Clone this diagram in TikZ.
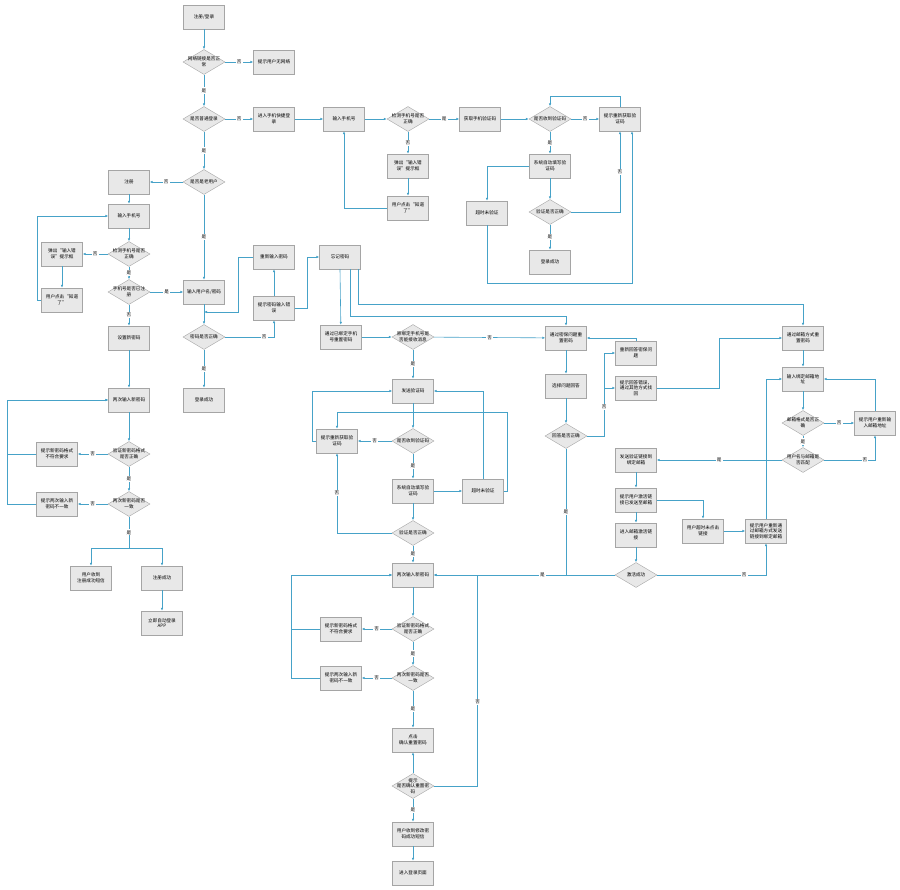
\documentclass[tikz,border=0pt]{standalone}
\usepackage{fontspec}
\newfontfamily\cjk{Noto Sans CJK SC}
\usetikzlibrary{arrows.meta, shapes.geometric}
\definecolor{flowline}{RGB}{70,162,200}
\definecolor{boxfill}{RGB}{232,232,232}
\definecolor{boxline}{RGB}{165,165,165}

\begin{document}
\begin{tikzpicture}[x=1pt, y=-1pt, every node/.style={font={\cjk\fontsize{4.6}{5.6}\selectfont}},
    >={Latex[length=3pt,width=2.6pt]},
    box/.style={draw=boxline, fill=boxfill, minimum width=41pt, minimum height=24pt, text width=38pt, align=center, inner sep=1pt},
    dia/.style={diamond, draw=boxline, fill=boxfill, minimum width=42pt, minimum height=25pt, inner sep=0pt,
        label={[font={\cjk\fontsize{4.6}{5.6}\selectfont}, align=center, text width=40pt]center:#1}},
    flow/.style={->, draw=flowline, line width=0.6pt},
    flowjoin/.style={draw=flowline, line width=0.6pt},
    lab/.style={fill=white, inner sep=1pt}]
    \useasboundingbox (0,0) rectangle (900,890);
    % login / register column
    \node[box] (start) at (204,17) {注册/登录};
    \node[dia={网络链接是否正\\常}] (net) at (204,62) {};
    \node[box] (nonet) at (274,62) {提示用户无网络};
    \node[dia={是否普通登录}] (normal) at (204,119) {};
    \node[box] (quick) at (274,119) {进入手机快捷登\\录};
    \node[dia={是否是老用户}] (old) at (204,182) {};
    \node[box] (reg) at (129,182) {注册};
    \node[box] (rphone) at (129,216) {输入手机号};
    \node[dia={检测手机号是否\\正确}] (rcheck) at (129,254) {};
    \node[box] (rerr) at (62,254) {弹出“输入错\\误”提示框};
    \node[box] (rok) at (62,300) {用户点击“知道\\了”};
    \node[dia={手机号是否已注\\册}] (rreg) at (129,292) {};
    \node[box] (login) at (204,292) {输入用户名/密码};
    \node[box] (setpw) at (129,338) {设置新密码};
    \node[box] (rtwice) at (129,400) {两次输入新密码};
    \node[dia={验证新密码格式\\是否正确}] (rfmt) at (129,454) {};
    \node[box] (rfmterr) at (57,454) {提示新密码格式\\不符合要求};
    \node[dia={两次新密码是否\\一致}] (rsame) at (129,504) {};
    \node[box] (rsameerr) at (57,504) {提示两次输入新\\密码不一致};
    \coordinate (rsplit) at (129,548);
    \node[box] (rsms) at (91,578) {用户收到\\注册成功短信};
    \node[box] (rdone) at (162,578) {注册成功};
    \node[box] (rauto) at (162,623) {立即自动登录\\APP};
    \node[dia={密码是否正确}] (pwok) at (204,337) {};
    \coordinate (lbelow) at (204,312);
    \node[box] (lsucc) at (204,400) {登录成功};
    \node[box] (retry) at (274,257) {重新输入密码};
    \node[box] (pwerr) at (274,308) {提示密码输入错\\误};
    \node[box] (forget) at (340,257) {忘记密码};
    % quick login row
    \node[box] (qphone) at (344,119) {输入手机号};
    \node[dia={检测手机号是否\\正确}] (qcheck) at (408,119) {};
    \node[box] (qerr) at (408,166) {弹出“输入错\\误”提示框};
    \node[box] (qok) at (408,208) {用户点击“知道\\了”};
    \node[box] (qcode) at (480,119) {获取手机验证码};
    \node[dia={是否收到验证码}] (qrecv) at (550,119) {};
    \node[box] (qagain) at (620,119) {提示重新获取验\\证码};
    \node[box] (qfill) at (550,166) {系统自动填写验\\证码};
    \node[box] (qtime) at (487,213) {超时未验证};
    \node[dia={验证是否正确}] (qver) at (550,212) {};
    \node[box] (qsucc) at (550,262) {登录成功};
    % reset by phone
    \node[box] (mreset) at (341,337) {通过已绑定手机\\号重置密码};
    \node[dia={原绑定手机号是\\否能接收消息}] (mrecvq) at (413,337) {};
    \node[box] (msend) at (413,391) {发送验证码};
    \node[box] (magain) at (337,441) {提示重新获取验\\证码};
    \node[dia={是否收到验证码}] (mrecv) at (413,441) {};
    \node[box] (mfill) at (413,491) {系统自动填写验\\证码};
    \node[box] (mtime) at (483,491) {超时未验证};
    \coordinate (mloop) at (507,412);
    \node[dia={验证是否正确}] (mver) at (413,533) {};
    \node[box] (mtwice) at (413,575) {两次输入新密码};
    \node[dia={验证新密码格式\\是否正确}] (mfmt) at (413,629) {};
    \node[box] (mfmterr) at (341,629) {提示新密码格式\\不符合要求};
    \node[dia={两次新密码是否\\一致}] (msame) at (413,678) {};
    \node[box] (msameerr) at (341,678) {提示两次输入新\\密码不一致};
    \node[box] (mclick) at (413,740) {点击\\确认重置密码};
    \node[dia={提示\\是否确认重置密\\码}] (mconf) at (413,786) {};
    \node[box] (msms) at (413,834) {用户收到修改密\\码成功短信};
    \node[box] (mlogin) at (413,873) {进入登录页面};
    % reset by security question
    \node[box] (sreset) at (566,338) {通过密保问题重\\置密码};
    \node[box] (sans) at (566,386) {选择问题回答};
    \node[dia={回答是否正确}] (sok) at (566,436) {};
    \coordinate (sjoin) at (566,575);
    \node[box] (sagain) at (636,353) {重新回答密保问\\题};
    \node[box] (serr) at (636,388) {提示回答错误，\\通过其他方式找\\回};
    % reset by email
    \node[box] (ereset) at (803,338) {通过邮箱方式重\\置密码};
    \node[box] (einput) at (803,379) {输入绑定邮箱地\\址};
    \node[dia={邮箱格式是否正\\确}] (efmt) at (803,423) {};
    \node[box] (eagain) at (875,423) {提示用户重新输\\入邮箱地址};
    \node[dia={用户名与邮箱是\\否匹配}] (ematch) at (803,460) {};
    \node[box] (esend) at (636,460) {发送验证链接到\\绑定邮箱};
    \node[box] (enote) at (636,500) {提示用户激活链\\接已发送至邮箱};
    \node[box] (eopen) at (636,535) {进入邮箱激活链\\接};
    \node[box] (etime) at (703,531) {用户超时未点击\\链接};
    \node[box] (eresend) at (766,531) {提示用户重新通\\过邮箱方式发送\\链接到绑定邮箱};
    \node[dia={激活成功}] (eact) at (636,575) {};

    \draw[flow] (start) -- (net);
    \draw[flow] (net) -- node[lab]{否} (nonet);
    \draw[flow] (net) -- node[lab]{是} (normal);
    \draw[flow] (normal) -- node[lab]{否} (quick);
    \draw[flow] (quick) -- (qphone);
    \draw[flow] (normal) -- node[lab]{是} (old);
    \draw[flow] (old) -- node[lab]{否} (reg);
    \draw[flow] (old) -- node[lab]{是} (login);
    \draw[flow] (reg) -- (rphone);
    \draw[flow] (rphone) -- (rcheck);
    \draw[flow] (rcheck) -- node[lab]{否} (rerr);
    \draw[flow] (rerr) -- (rok);
    \draw[flow] (rok.west) -- ++(-4,0) |- (rphone.west);
    \draw[flow] (rcheck) -- node[lab]{是} (rreg);
    \draw[flow] (rreg) -- node[lab]{是} (login);
    \draw[flow] (rreg) -- node[lab]{否} (setpw);
    \draw[flow] (setpw) -- (rtwice);
    \draw[flow] (rtwice) -- (rfmt);
    \draw[flow] (rfmt) -- node[lab]{否} (rfmterr);
    \draw[flow] (rfmt) -- node[lab]{是} (rsame);
    \draw[flow] (rsame) -- node[lab]{否} (rsameerr);
    \draw[flow] (rfmterr.west) -- ++(-29,0) |- (rtwice.west);
    \draw[flow] (rsameerr.west) -- ++(-29,0) |- (rtwice.west);
    \draw[flowjoin] (rsame) -- node[lab]{是} (rsplit);
    \draw[flow] (rsplit) -| (rsms);
    \draw[flow] (rsplit) -| (rdone);
    \draw[flow] (rdone) -- (rauto);
    \draw[flow] (login) -- (pwok);
    \draw[flow] (pwok.east) -| node[lab,pos=0.4]{否} (pwerr.south);
    \draw[flow] (pwerr) -- (retry);
    \draw[flow] (retry.west) -- ++(-15,0) |- (lbelow);
    \draw[flow] (pwerr.east) -- ++(13,0) |- (forget.west);
    \draw[flow] (pwok) -- node[lab]{是} (lsucc);

    \draw[flow] (qphone) -- (qcheck);
    \draw[flow] (qcheck) -- node[lab]{是} (qcode);
    \draw[flow] (qcheck) -- node[lab]{否} (qerr);
    \draw[flow] (qerr) -- (qok);
    \draw[flow] (qok.west) -| (qphone.south);
    \draw[flow] (qcode) -- (qrecv);
    \draw[flow] (qrecv) -- node[lab]{否} (qagain);
    \draw[flow] (qagain.north) -- ++(0,-10) -| (qrecv.north);
    \draw[flow] (qrecv) -- node[lab]{是} (qfill);
    \draw[flow] (qfill.west) -| (qtime.north);
    \draw[flow] (qfill) -- (qver);
    \draw[flow] (qver.east) -| node[lab,pos=0.75]{否} (qagain.south);
    \draw[flow] (qtime.south) -- ++(0,58) -| ([xshift=12]qagain.south);
    \draw[flow] (qver) -- node[lab]{是} (qsucc);

    \draw[flow] (forget.south) -- (mreset);
    \draw[flow] ([xshift=10]forget.south) -- ++(0,47) -| (sreset.north);
    \draw[flow] ([xshift=18]forget.south) -- ++(0,35) -| (ereset.north);
    \draw[flow] (mreset) -- (mrecvq);
    \draw[flow] (mrecvq) -- node[lab]{否} (sreset);
    \draw[flow] (mrecvq) -- node[lab]{是} (msend);
    \draw[flow] (msend) -- (mrecv);
    \draw[flow] (mrecv) -- node[lab]{否} (magain);
    \draw[flow] (magain.west) -- ++(-4,0) |- (msend.west);
    \draw[flow] (mrecv) -- node[lab]{是} (mfill);
    \draw[flow] (mfill) -- (mtime);
    \draw[flow] (mtime.north) |- (msend.east);
    \draw[flow] (mtime.east) -| (mloop) -| (magain.north);
    \draw[flow] (mfill) -- (mver);
    \draw[flow] (mver.west) -| node[lab,pos=0.75]{否} (magain.south);
    \draw[flow] (mver) -- node[lab]{是} (mtwice);
    \draw[flow] (mtwice) -- (mfmt);
    \draw[flow] (mfmt) -- node[lab]{否} (mfmterr);
    \draw[flow] (mfmt) -- node[lab]{是} (msame);
    \draw[flow] (msame) -- node[lab]{否} (msameerr);
    \draw[flow] (mfmterr.west) -- ++(-29,0) |- (mtwice.west);
    \draw[flow] (msameerr.west) -- ++(-29,0) |- (mtwice.west);
    \draw[flow] (msame) -- node[lab]{是} (mclick);
    \draw[flow] (mconf) -- (mclick);
    \draw[flow] (mconf.east) -| node[lab,pos=0.7]{否} ([xshift=44]mtwice.east) -- (mtwice.east);
    \draw[flow] (mconf) -- node[lab]{是} (msms);
    \draw[flow] (msms) -- (mlogin);

    \draw[flow] (sreset) -- (sans);
    \draw[flow] (sans) -- (sok);
    \draw[flow] (sok.east) -- ++(17,0) |- (sagain.west);
    \draw[flow] (sok.east) -- ++(17,0) |- node[lab,pos=0.3]{否} (serr.west);
    \draw[flow] (sagain.north) |- (sreset.east);
    \draw[flow] (serr.east) -- ++(63,0) |- (ereset.west);
    \draw[flowjoin] (sok) -- node[lab]{是} (sjoin);
    \draw[flow] (eact.west) -- node[lab,pos=0.4]{是} (mtwice.east);

    \draw[flow] (ereset) -- (einput);
    \draw[flow] (einput) -- (efmt);
    \draw[flow] (efmt) -- node[lab]{否} (eagain);
    \draw[flow] (eagain.north) |- (einput.east);
    \draw[flow] (efmt) -- node[lab]{是} (ematch);
    \draw[flow] (ematch.east) -| node[lab,pos=0.4]{否} (eagain.south);
    \draw[flow] (ematch) -- node[lab]{是} (esend);
    \draw[flow] (esend) -- (enote);
    \draw[flow] (enote.east) -| (etime.north);
    \draw[flow] (enote) -- (eopen);
    \draw[flow] (eopen) -- (eact);
    \draw[flow] (etime) -- (eresend);
    \draw[flow] (eact.east) -| node[lab,pos=0.4]{否} (eresend.south);
    \draw[flow] (eresend.north) |- (einput.west);
\end{tikzpicture}
\end{document}
